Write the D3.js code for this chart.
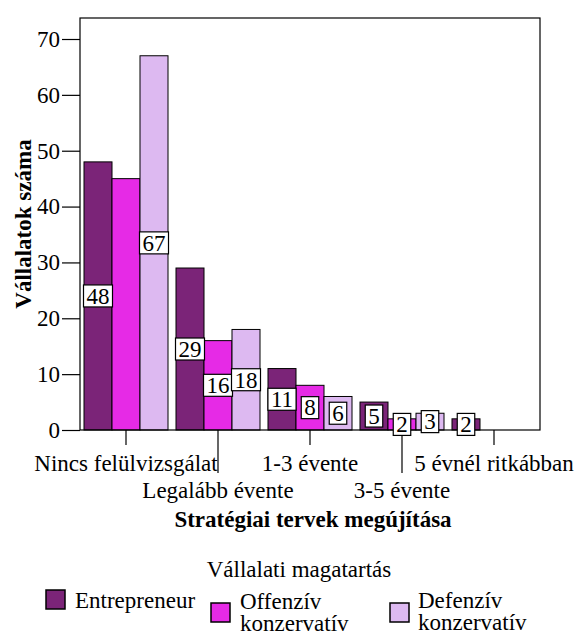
<!DOCTYPE html>
<html>
<head>
<meta charset="utf-8">
<script src="https://cdn.jsdelivr.net/npm/d3@7"></script>
<style>
  body { margin: 0; background: white; }
  svg text { font-family: "Liberation Serif", "Times New Roman", serif; fill: #000; }
</style>
</head>
<body>
<svg id="chart"></svg>
<script>
// categories on the x axis
var categories = ["Nincs felülvizsgálat", "Legalább évente", "1-3 évente", "3-5 évente", "5 évnél ritkábban"];
// series (Vállalati magatartás)
var seriesNames = ["Entrepreneur", "Offenzív konzervatív", "Defenzív konzervatív"];
var entrepreneur = [48, 29, 11, 5, 2];
var offenziv = [45, 16, 8, 2, 0];
var defenziv = [67, 18, 6, 3, 0];
// bar labels as shown in the picture (null = no label)
var entrepreneurLabels = [48, 29, 11, 5, 2];
var offenzivLabels = [null, 16, 8, 2, null];
var defenzivLabels = [67, 18, 6, 3, null];
var yTicks = [0, 10, 20, 30, 40, 50, 60, 70];
var colors = ["#7b2478", "#e62ae6", "#ddb9f1"];

var W = 582, H = 635;
var plotLeft = 80, plotRight = 540, plotTop = 18, plotBottom = 430;

var svg = d3.select("#chart").attr("width", W).attr("height", H);

// scales
var x0 = d3.scaleBand().domain(categories).range([plotLeft, plotRight]);
var x1 = d3.scaleBand().domain(seriesNames).range([4, x0.bandwidth() - 4]);
var y = d3.scaleLinear().domain([0, 73.76]).range([plotBottom, plotTop]);

var values = [entrepreneur, offenziv, defenziv];
var labels = [entrepreneurLabels, offenzivLabels, defenzivLabels];

var data = [];
seriesNames.forEach(function(s, si) {
    categories.forEach(function(c, ci) {
        data.push({ cat: c, ci: ci, series: s, si: si, value: values[si][ci], label: labels[si][ci] });
    });
});

// bars
svg.append("g")
    .selectAll("rect")
    .data(data.filter(function(d) { return d.value > 0; }))
    .enter().append("rect")
        .attr("x", function(d) { return x0(d.cat) + x1(d.series); })
        .attr("y", function(d) { return y(d.value); })
        .attr("width", x1.bandwidth())
        .attr("height", function(d) { return y(0) - y(d.value); })
        .attr("fill", function(d) { return colors[d.si]; })
        .attr("stroke", "#000")
        .attr("stroke-width", 1);

// frame
svg.append("rect")
    .attr("x", plotLeft).attr("y", plotTop)
    .attr("width", plotRight - plotLeft).attr("height", plotBottom - plotTop)
    .attr("fill", "none").attr("stroke", "#000").attr("stroke-width", 1.2);

// y axis
var yAxis = svg.append("g")
    .attr("transform", "translate(" + plotLeft + ",0)")
    .call(d3.axisLeft(y).tickValues(yTicks).tickSize(18).tickPadding(2));
yAxis.select(".domain").remove();
yAxis.selectAll("line").attr("stroke", "#000").attr("stroke-width", 1.2);
yAxis.selectAll("text")
    .attr("font-size", 23)
    .attr("font-family", "Liberation Serif, Times New Roman, serif")
    .attr("fill", "#000");

// x axis ticks and staggered labels
var xg = svg.append("g");
categories.forEach(function(c, i) {
    var cx = x0(c) + x0.bandwidth() / 2;
    var odd = i % 2 === 1;
    xg.append("line")
        .attr("x1", cx).attr("x2", cx)
        .attr("y1", plotBottom).attr("y2", odd ? 473 : 445)
        .attr("stroke", "#000").attr("stroke-width", 1.2);
    xg.append("text")
        .attr("x", cx)
        .attr("y", odd ? 498 : 471)
        .attr("text-anchor", "middle")
        .attr("font-size", 23)
        .text(c);
});

// bar value labels
var lg = svg.append("g");
data.filter(function(d) { return d.label !== null; }).forEach(function(d) {
    var cx = x0(d.cat) + x1(d.series) + x1.bandwidth() / 2;
    var cy = y(d.value / 2);
    var t = lg.append("text")
        .attr("x", cx).attr("y", cy)
        .attr("dy", "0.34em")
        .attr("text-anchor", "middle")
        .attr("font-size", 23)
        .text(d.label);
    var tw = t.node().getComputedTextLength();
    lg.insert("rect", "text")
        .attr("x", cx - tw / 2 - 3)
        .attr("y", cy - 11)
        .attr("width", tw + 6)
        .attr("height", 22)
        .attr("fill", "#fff")
        .attr("stroke", "#000")
        .attr("stroke-width", 1.2);
});

// axis titles
svg.append("text")
    .attr("transform", "translate(31," + ((plotTop + plotBottom) / 2) + ") rotate(-90)")
    .attr("text-anchor", "middle")
    .attr("font-size", 23)
    .attr("font-weight", "bold")
    .text("Vállalatok száma");

svg.append("text")
    .attr("x", 313).attr("y", 527)
    .attr("text-anchor", "middle")
    .attr("font-size", 23)
    .attr("font-weight", "bold")
    .text("Stratégiai tervek megújítása");

// legend
svg.append("text")
    .attr("x", 299).attr("y", 577)
    .attr("text-anchor", "middle")
    .attr("font-size", 23)
    .text("Vállalati magatartás");

var legendItems = [
    { sx: 46, sy: 590, tx: 75, ty: 608, lines: ["Entrepreneur"] },
    { sx: 211, sy: 603, tx: 240, ty: 609, lines: ["Offenzív", "konzervatív"] },
    { sx: 390, sy: 603, tx: 418, ty: 608, lines: ["Defenzív", "konzervatív"] }
];
legendItems.forEach(function(it, i) {
    svg.append("rect")
        .attr("x", it.sx).attr("y", it.sy)
        .attr("width", 19).attr("height", 19)
        .attr("fill", colors[i])
        .attr("stroke", "#000").attr("stroke-width", 1.5);
    var t = svg.append("text")
        .attr("x", it.tx).attr("y", it.ty)
        .attr("font-size", 23);
    it.lines.forEach(function(l, li) {
        t.append("tspan").attr("x", it.tx).attr("dy", li === 0 ? 0 : 22).text(l);
    });
});
</script>
</body>
</html>
